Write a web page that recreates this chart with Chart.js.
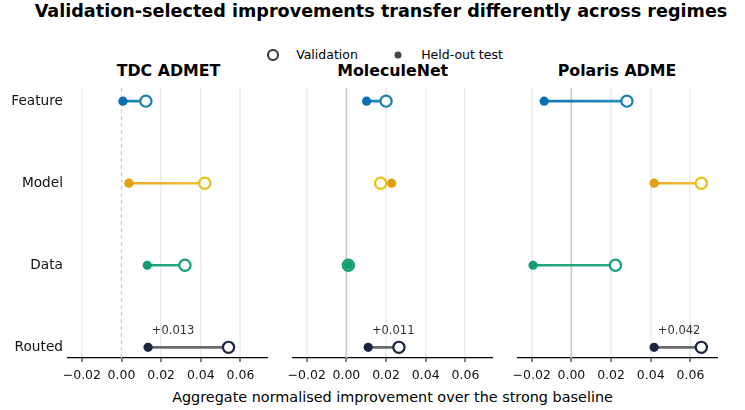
<!DOCTYPE html>
<html><head><meta charset="utf-8">
<script src="https://cdn.jsdelivr.net/npm/chart.js@4.4.1/dist/chart.umd.min.js"></script>
<style>
body{margin:0;width:745px;height:410px;background:#fff;font-family:"DejaVu Sans",sans-serif;overflow:hidden;position:relative}
.t{position:absolute;white-space:nowrap;transform:translate(-50%,-50%);color:#000;line-height:1}
.box{position:absolute;top:80px;height:315px}
.ring{position:absolute;width:8px;height:8px;border:2px solid #333;border-radius:50%;transform:translate(-50%,-50%)}
.dot{position:absolute;width:7px;height:7px;background:#444;border-radius:50%;transform:translate(-50%,-50%)}
</style></head><body>
<div class="t" style="left:381px;top:12px;font-weight:bold;font-size:17.6px">Validation-selected improvements transfer differently across regimes</div>
<div class="ring" style="left:273px;top:55px"></div>
<div class="t" style="left:327px;top:55px;font-size:12.5px">Validation</div>
<div class="dot" style="left:398px;top:55px"></div>
<div class="t" style="left:462px;top:55px;font-size:12.5px">Held-out test</div>
<div id="pt0" class="t" style="left:168.5px;top:71px;font-weight:bold;font-size:15.8px"></div>
<div id="pt1" class="t" style="left:392.7px;top:71px;font-weight:bold;font-size:15.8px"></div>
<div id="pt2" class="t" style="left:617px;top:71px;font-weight:bold;font-size:15.8px"></div>
<div class="t" style="left:392.5px;top:397px;font-size:14.4px">Aggregate normalised improvement over the strong baseline</div>
<div class="box" style="left:0;width:275px"><canvas id="c0"></canvas></div>
<div class="box" style="left:285px;width:215px"><canvas id="c1"></canvas></div>
<div class="box" style="left:510px;width:215px"><canvas id="c2"></canvas></div>
<script>
const categories = ['Feature', 'Model', 'Data', 'Routed'];
const panelTitles = ['TDC ADMET', 'MoleculeNet', 'Polaris ADME'];
const validationTDC = [0.0123, 0.042, 0.032, 0.054];
const testTDC = [0.0007, 0.0037, 0.013, 0.0134];
const validationMolNet = [0.020, 0.0173, 0.001, 0.0265];
const testMolNet = [0.0102, 0.0228, 0.001, 0.011];
const validationPolaris = [0.028, 0.0655, 0.0222, 0.0655];
const testPolaris = [-0.0137, 0.0417, -0.0193, 0.0417];
const xTicks = [-0.02, 0, 0.02, 0.04, 0.06];
const yPositions = [0, 1, 2, 3];

const testColors = ['#0570b0', '#e0a010', '#129e70', '#1a2540'];
const valColors = ['#1a7eb5', '#e6c214', '#159f78', '#1a2540'];
const lineFrom = ['#1478b2', '#eca52a', '#1ea47a', '#6a6a6a'];
const lineTo = ['#2a8fb8', '#f2c240', '#2aa884', '#6a6a6a'];

const valSets = [validationTDC, validationMolNet, validationPolaris];
const testSets = [testTDC, testMolNet, testPolaris];
const pads = [{left:0,right:6}, {left:7.7,right:7.3}, {left:6.7,right:7.7}];
const F = '"DejaVu Sans", sans-serif';

function fmt(v){ if (Math.abs(v) < 1e-9) v = 0; return (v < 0 ? '\u2212' : '') + Math.abs(v).toFixed(2); }

function makeChart(idx){
  document.getElementById('pt' + idx).textContent = panelTitles[idx];
  const val = valSets[idx], test = testSets[idx];
  const datasets = [];
  categories.forEach((c, i) => {
    datasets.push({
      type: 'line', order: 3,
      data: [{x: test[i], y: yPositions[i]}, {x: val[i], y: yPositions[i]}],
      borderWidth: 2.6, pointRadius: 0, pointHoverRadius: 0, borderColor: lineFrom[i],
      segment: { borderColor: ctx => {
        const g = ctx.chart.ctx.createLinearGradient(ctx.p0.x, 0, ctx.p1.x + 0.01, 0);
        g.addColorStop(0, lineFrom[i]); g.addColorStop(1, lineTo[i]); return g; } }
    });
    datasets.push({
      type: 'scatter', order: 2,
      data: [{x: val[i], y: yPositions[i]}],
      pointRadius: 5.6, pointBorderWidth: 2.2, pointBackgroundColor: '#fff', pointBorderColor: valColors[i]
    });
    datasets.push({
      type: 'scatter', order: 1,
      data: [{x: test[i], y: yPositions[i]}],
      pointRadius: 4.6, pointBorderWidth: 0, pointBackgroundColor: testColors[i], pointBorderColor: testColors[i]
    });
  });
  const zeroPlugin = {
    id: 'zero',
    beforeDatasetsDraw(chart){
      const {ctx, chartArea, scales:{x}} = chart;
      const px = x.getPixelForValue(0);
      ctx.save();
      ctx.beginPath();
      if (idx === 0) { ctx.setLineDash([4, 3]); ctx.strokeStyle = '#cccccc'; ctx.lineWidth = 1.2; }
      else { ctx.strokeStyle = '#c8c8c8'; ctx.lineWidth = 1.6; }
      ctx.moveTo(px, chartArea.top); ctx.lineTo(px, chartArea.bottom); ctx.stroke();
      ctx.restore();
    },
    afterDatasetsDraw(chart){
      const {ctx, scales:{x, y}} = chart;
      const i = 3;
      const diff = test[i];
      const px = x.getPixelForValue(test[i]) + 25;
      const py = y.getPixelForValue(yPositions[i]) - 16;
      ctx.save();
      ctx.font = '11.5px ' + F; ctx.fillStyle = '#333'; ctx.textAlign = 'center'; ctx.textBaseline = 'middle';
      ctx.fillText((diff >= 0 ? '+' : '\u2212') + Math.abs(diff).toFixed(3), px, py);
      ctx.restore();
    }
  };
  new Chart(document.getElementById('c' + idx), {
    type: 'scatter',
    data: { datasets },
    plugins: [zeroPlugin],
    options: {
      responsive: true, maintainAspectRatio: false, animation: false,
      layout: { padding: { top: 8, bottom: 0, left: pads[idx].left, right: pads[idx].right } },
      plugins: { legend: {display: false}, tooltip: {enabled: false} },
      scales: {
        x: {
          type: 'linear', min: -0.027, max: 0.0735,
          afterBuildTicks: s => { s.ticks = xTicks.map(v => ({value: v})); },
          afterFit: s => { s.height = 37; s.paddingLeft = 0; s.paddingRight = 0; },
          grid: { color: c => (Math.abs(c.tick.value) < 1e-9 ? 'rgba(0,0,0,0)' : '#f0f0f0'), lineWidth: 2, drawTicks: true, tickLength: 4, tickColor: '#000', tickWidth: 1 },
          border: { display: true, color: '#000', width: 1.2 },
          ticks: { callback: v => fmt(v), color: '#111', font: {family: F, size: 12.5}, padding: 6, maxRotation: 0, autoSkip: false }
        },
        y: {
          type: 'linear', min: -0.16, max: 3.13, reverse: true,
          display: idx === 0,
          afterBuildTicks: s => { s.ticks = yPositions.map(v => ({value: v})); },
          afterFit: s => { s.width = idx === 0 ? 68 : 0; s.paddingTop = 0; s.paddingBottom = 0; },
          grid: { display: false, drawTicks: false },
          border: { display: false },
          ticks: { callback: v => categories[v], color: '#111', font: {family: F, size: 13.7}, padding: 5 }
        }
      }
    }
  });
}
[0, 1, 2].forEach(makeChart);
</script>
</body></html>
